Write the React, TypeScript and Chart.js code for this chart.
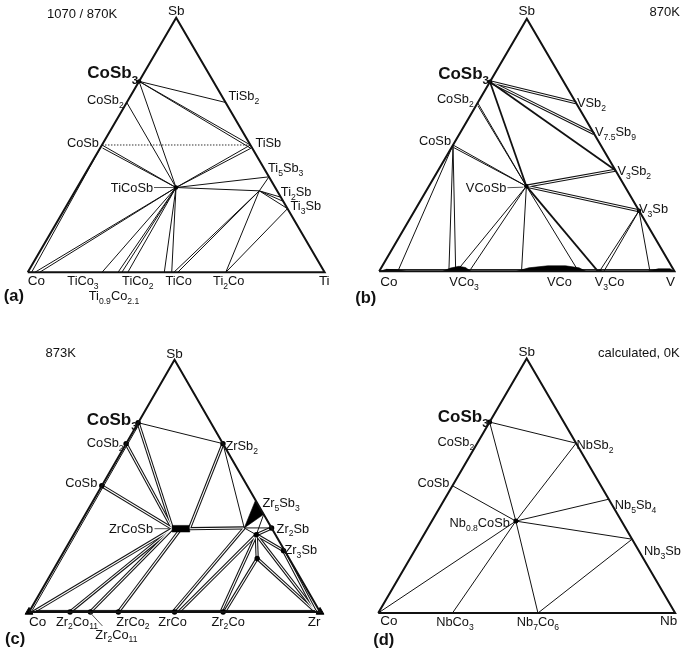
import React, { useEffect, useRef } from "react";
import { Chart, registerables } from "chart.js";
Chart.register(...registerables);

type P = [number, number]; // [fraction of metal X (right vertex), fraction of Sb]
type Seg = [string, string];
type Label = [string, string, number, number, "left" | "right" | "center", string, number[]?];

const FAMILY = '"Liberation Sans", Arial, Helvetica, sans-serif';

// ---------------- (a) Ti–Co–Sb, 1070 / 870K ----------------
const A_PTS: Record<string, P> = {
  Co: [0, 0], Ti: [1, 0], Sb: [0, 1],
  CoSb3: [0, 0.75], CoSb2: [0, 0.667], CoSb: [0, 0.5], CoSbB: [0.008, 0.488],
  TiSb2: [0.333, 0.667], TiSb: [0.5, 0.5], TiSbB: [0.508, 0.487],
  Ti5Sb3: [0.625, 0.375], Ti2Sb: [0.705, 0.295], Ti2SbB: [0.718, 0.28], Ti3Sb: [0.75, 0.25],
  TiCoSb: [0.333, 0.333], P: [0.62, 0.32],
  CoE: [0.013, 0], Co1: [0.024, 0], Co2: [0.04, 0], TiCo3: [0.25, 0], T09: [0.304, 0], T09B: [0.317, 0],
  TiCo2: [0.337, 0], TiCoA: [0.46, 0], TiCoB: [0.485, 0], TiCoC: [0.492, 0], TiCoD: [0.505, 0], Ti2Co: [0.667, 0],
};
const A_SINGLE: Seg[] = [
  ["CoSb3", "TiSb2"], ["CoSb3", "TiSb"], ["CoSb3", "TiSbB"], ["CoSb3", "TiCoSb"], ["CoSb2", "TiCoSb"],
  ["CoSb", "TiCoSb"], ["CoSbB", "TiCoSb"], ["TiSb", "TiCoSb"], ["TiSbB", "TiCoSb"],
  ["TiCoSb", "Ti5Sb3"], ["TiCoSb", "P"], ["Ti5Sb3", "P"], ["P", "Ti2Sb"], ["P", "Ti2SbB"], ["P", "Ti3Sb"],
  ["P", "TiCoC"], ["P", "TiCoD"], ["P", "Ti2Co"], ["Ti3Sb", "Ti2Co"],
  ["TiCoSb", "Co1"], ["TiCoSb", "Co2"], ["CoSb", "CoE"], ["TiCoSb", "TiCo3"], ["TiCoSb", "T09"],
  ["TiCoSb", "T09B"], ["TiCoSb", "TiCo2"], ["TiCoSb", "TiCoA"], ["TiCoSb", "TiCoB"],
];
const A_BOLD: Seg[] = [];
const A_DOUBLE: Seg[] = [];
const A_DOTTED: Seg[] = [["CoSb", "TiSb"]];
const A_DOTS: string[] = ["CoSb3", "TiCoSb"];
const A_MARKS: string[] = [];
const A_FILLS: P[][] = [];
const A_LABELS: Label[] = [
  ["Sb", "Sb", 0, -8, "center", "v"],
  ["1070 / 870K", "Sb", -59, -4, "right", "t"],
  ["CoSb_{3}", "CoSb3", -1, -9, "right", "b"],
  ["CoSb_{2}", "CoSb2", -3, -3, "right", "n"],
  ["CoSb", "CoSb", -3, -3, "right", "n"],
  ["TiSb_{2}", "TiSb2", 3, -7, "left", "n"],
  ["TiSb", "TiSb", 5, -2.5, "left", "n"],
  ["Ti_{5}Sb_{3}", "Ti5Sb3", -1, -9, "left", "n"],
  ["Ti_{2}Sb", "Ti2Sb", 0, -6, "left", "n"],
  ["Ti_{3}Sb", "Ti3Sb", 3, -3, "left", "n"],
  ["TiCoSb", "TiCoSb", -23, 0, "right", "n", [-22, 0, -2, 0]],
  ["Co", "Co", 0, 8, "left", "v"],
  ["Ti", "Ti", 5, 8, "right", "v"],
  ["TiCo_{3}", "TiCo3", -19, 8, "center", "n"],
  ["Ti_{0.9}Co_{2.1}", "T09", -4, 23, "center", "n"],
  ["TiCo_{2}", "TiCo2", 10, 8, "center", "n"],
  ["TiCo", "TiCoD", 1, 8, "center", "n"],
  ["Ti_{2}Co", "Ti2Co", 3, 8, "center", "n"],
  ["(a)", "Co", -24, 23, "left", "p"],
];

// ---------------- (b) V–Co–Sb, 870K ----------------
const B_PTS: Record<string, P> = {
  Co: [0, 0], V: [1, 0], Sb: [0, 1],
  CoSb3: [0, 0.75], CoSb3B: [0.006, 0.744], CoSb2: [0, 0.667], CoSb2B: [0.007, 0.655],
  CoSb: [0, 0.5], CoSbB: [0.007, 0.49],
  VSb2: [0.333, 0.667], V75Sb9: [0.455, 0.545], V3Sb2: [0.6, 0.4], V3Sb: [0.76, 0.24],
  VCoSb: [0.33, 0.337],
  CoE: [0.063, 0], VCo3a: [0.236, 0], VCo3: [0.25, 0], VCo3b: [0.259, 0], VCo3c: [0.262, 0], VCo3d: [0.305, 0],
  VCoA: [0.482, 0], VCo: [0.6, 0], VCoB: [0.675, 0], V3CoA: [0.741, 0], V3CoB: [0.746, 0], V3CoC: [0.761, 0],
  VE: [0.917, 0], BL: [0.02, 0.007], BR: [0.98, 0.007],
};
const B_DOUBLE: Seg[] = [["CoSb3", "VSb2"], ["CoSb3", "V75Sb9"], ["VCoSb", "V3Sb2"], ["VCoSb", "V3Sb"]];
const B_BOLD: Seg[] = [["CoSb3", "VCoSb"], ["CoSb3", "V3Sb2"], ["VCoSb", "V3CoA"]];
const B_SINGLE: Seg[] = [
  ["CoSb2", "VCoSb"], ["CoSb2B", "VCoSb"], ["CoSb", "VCoSb"], ["CoSbB", "VCoSb"],
  ["VCoSb", "VCoA"], ["VCoSb", "VCoB"], ["VCoSb", "VCo3c"], ["VCoSb", "VCo3d"],
  ["CoSb", "CoE"], ["CoSb", "VCo3a"], ["CoSb", "VCo3b"],
  ["V3Sb", "V3CoB"], ["V3Sb", "V3CoC"], ["V3Sb", "VE"], ["BL", "BR"],
];
const B_DOTTED: Seg[] = [];
const B_DOTS: string[] = ["CoSb3", "VCoSb", "V3Sb"];
const B_MARKS: string[] = [];
const B_FILLS: P[][] = [
  [[0, 0], [0.02, 0.008], [0.06, 0.006], [0.09, 0]],
  [[0.215, 0], [0.235, 0.013], [0.26, 0.02], [0.285, 0.015], [0.31, 0]],
  [[0.465, 0], [0.5, 0.014], [0.56, 0.022], [0.62, 0.022], [0.67, 0.014], [0.7, 0]],
  [[0.735, 0], [0.745, 0.007], [0.755, 0]],
  [[0.91, 0], [0.94, 0.01], [0.98, 0.01], [1, 0]],
];
const B_LABELS: Label[] = [
  ["Sb", "Sb", 0, -8, "center", "v"],
  ["870K", "Sb", 153, -7.5, "right", "t"],
  ["CoSb_{3}", "CoSb3", -1, -9, "right", "b"],
  ["CoSb_{2}", "CoSb2", -4, -4, "right", "n"],
  ["CoSb", "CoSb", -2, -4.5, "right", "n"],
  ["VSb_{2}", "VSb2", 1, 0, "left", "n"],
  ["V_{7.5}Sb_{9}", "V75Sb9", 1, -2, "left", "n"],
  ["V_{3}Sb_{2}", "V3Sb2", 2, 0.5, "left", "n"],
  ["V_{3}Sb", "V3Sb", 0, -2, "left", "n"],
  ["VCoSb", "VCoSb", -20, 1, "right", "n", [-19, 1.5, -3, 1]],
  ["Co", "Co", 1, 10, "left", "v"],
  ["VCo_{3}", "VCo3", 11, 10, "center", "n"],
  ["VCo", "VCo", 3, 10, "center", "n"],
  ["V_{3}Co", "V3CoB", 10, 10, "center", "n"],
  ["V", "V", -4, 10, "center", "v"],
  ["(b)", "Co", -24, 26, "left", "p"],
];

// ---------------- (c) Zr–Co–Sb, 873K ----------------
const C_PTS: Record<string, P> = {
  Co: [0, 0], Zr: [1, 0], Sb: [0, 1],
  CoSb3: [0, 0.75], CoSb2: [0, 0.667], CoSb: [0, 0.5], ZrSb2: [0.333, 0.667],
  Z1: [0.557, 0.442], Z2: [0.613, 0.387], Z3: [0.573, 0.333],
  Zr2Sb: [0.667, 0.333], Zr3Sb: [0.753, 0.243], Q1: [0.628, 0.306], Q2: [0.678, 0.212],
  ZL: [0.328, 0.33], ZM: [0.357, 0.33], ZR: [0.386, 0.33],
  CoB: [0.015, 0], Zr2Co11a: [0.141, 0], Zr2Co11b: [0.211, 0], ZrCo2: [0.333, 0], ZrCo2a: [0.307, 0],
  ZrCo: [0.5, 0], ZrCoA: [0.495, 0], ZrCoB: [0.515, 0],
  Zr2Co: [0.667, 0], Zr2CoA: [0.66, 0], Zr2CoB: [0.672, 0], ZrB: [0.985, 0],
  CoI: [0.008, 0], CoSb3I: [0.006, 0.744], BL: [0.02, 0.006], BR: [0.98, 0.006],
};
const C_DOUBLE: Seg[] = [
  ["CoSb3", "ZL"], ["CoSb2", "ZL"], ["CoSb", "ZL"], ["ZrSb2", "ZR"], ["ZR", "Z3"],
  ["ZL", "CoB"], ["ZL", "Zr2Co11a"], ["ZL", "Zr2Co11b"], ["ZM", "ZrCo2a"],
  ["Z3", "ZrCoA"], ["Q1", "ZrCoB"], ["Q1", "Zr2CoA"], ["Q2", "Zr2CoB"],
  ["Q1", "Zr2Sb"], ["Q1", "Zr3Sb"], ["Q1", "Q2"], ["Q1", "ZrB"], ["Q2", "ZrB"], ["Zr3Sb", "ZrB"],
];
const C_BOLD: Seg[] = [];
const C_SINGLE: Seg[] = [
  ["CoSb3", "ZrSb2"], ["ZrSb2", "Z3"], ["Z3", "Q1"], ["Z2", "Q1"], ["Z3", "Zr2Sb"], ["Z2", "Zr2Sb"],
  ["CoI", "CoSb3I"], ["BL", "BR"],
];
const C_DOTTED: Seg[] = [];
const C_DOTS: string[] = [
  "CoSb3", "CoSb2", "CoSb", "ZrSb2", "Zr2Sb", "Zr3Sb", "Q1", "Q2",
  "Zr2Co11a", "Zr2Co11b", "ZrCo2a", "ZrCo", "Zr2Co",
];
const C_MARKS: string[] = ["Co", "Zr"];
const C_FILLS: P[][] = [
  [[0.557, 0.442], [0.613, 0.387], [0.573, 0.333]],
  [[0.32, 0.343], [0.378, 0.343], [0.394, 0.317], [0.336, 0.317]],
];
const C_LABELS: Label[] = [
  ["Sb", "Sb", 0, -7, "center", "v"],
  ["873K", "Sb", -129, -7, "left", "t"],
  ["CoSb_{3}", "CoSb3", -0.5, -4, "right", "b"],
  ["CoSb_{2}", "CoSb2", -2.5, -1.5, "right", "n"],
  ["CoSb", "CoSb", -4.5, -3.5, "right", "n"],
  ["ZrSb_{2}", "ZrSb2", 2.5, 1.5, "left", "n"],
  ["Zr_{5}Sb_{3}", "Z1", 7, 2, "left", "n"],
  ["Zr_{2}Sb", "Zr2Sb", 5, 0, "left", "n"],
  ["Zr_{3}Sb", "Zr3Sb", 1, -1, "left", "n"],
  ["ZrCoSb", "ZL", -19.5, 0, "right", "n", [-18, 0, -3, 0]],
  ["Co", "Co", 0, 9, "left", "v"],
  ["Zr_{2}Co_{11}", "Zr2Co11a", 7, 9, "center", "n"],
  ["Zr_{2}Co_{11}", "Zr2Co11b", 26, 22, "center", "n", [0, 1, 12, 14]],
  ["ZrCo_{2}", "ZrCo2", 7, 9, "center", "n"],
  ["ZrCo", "ZrCo", -2, 9, "center", "n"],
  ["Zr_{2}Co", "Zr2Co", 5, 9, "center", "n"],
  ["Zr", "Zr", -6, 9, "center", "v"],
  ["(c)", "Co", -24, 26, "left", "p"],
];

// ---------------- (d) Nb–Co–Sb, calculated 0K ----------------
const D_PTS: Record<string, P> = {
  Co: [0, 0], Nb: [1, 0], Sb: [0, 1],
  CoSb3: [0, 0.75], CoSb2: [0, 0.667], CoSb: [0, 0.5],
  NbSb2: [0.333, 0.667], Nb5Sb4: [0.553, 0.447], Nb3Sb: [0.71, 0.29], NbCoSb: [0.283, 0.361],
  NbCo3: [0.25, 0], Nb7Co6: [0.538, 0],
};
const D_SINGLE: Seg[] = [
  ["CoSb3", "NbSb2"], ["CoSb3", "NbCoSb"], ["NbCoSb", "Nb7Co6"], ["CoSb", "NbCoSb"], ["NbSb2", "NbCoSb"],
  ["Nb5Sb4", "NbCoSb"], ["Nb3Sb", "NbCoSb"], ["Co", "NbCoSb"], ["NbCo3", "NbCoSb"], ["Nb3Sb", "Nb7Co6"],
];
const D_BOLD: Seg[] = [];
const D_DOUBLE: Seg[] = [];
const D_DOTTED: Seg[] = [];
const D_DOTS: string[] = ["CoSb3", "NbCoSb"];
const D_MARKS: string[] = [];
const D_FILLS: P[][] = [];
const D_LABELS: Label[] = [
  ["Sb", "Sb", 0, -7, "center", "v"],
  ["calculated, 0K", "Sb", 153, -6, "right", "t"],
  ["CoSb_{3}", "CoSb3", -1, -6, "right", "b"],
  ["CoSb_{2}", "CoSb2", -3, -1.5, "right", "n"],
  ["CoSb", "CoSb", -3, -3.5, "right", "n"],
  ["NbSb_{2}", "NbSb2", 0.5, 1.5, "left", "n"],
  ["Nb_{5}Sb_{4}", "Nb5Sb4", 6, 5, "left", "n"],
  ["Nb_{3}Sb", "Nb3Sb", 12, 11, "left", "n"],
  ["Nb_{0.8}CoSb", "NbCoSb", -6, 1, "right", "n"],
  ["Co", "Co", 2, 7.5, "left", "v"],
  ["NbCo_{3}", "NbCo3", 2.5, 8.5, "center", "n"],
  ["Nb_{7}Co_{6}", "Nb7Co6", 0, 8.5, "center", "n"],
  ["Nb", "Nb", -6.5, 7.5, "center", "v"],
  ["(d)", "Co", -5, 26, "left", "p"],
];

// layout: canvas box [left, top, w, h]; triangle pixels [leftVertexX, rightVertexX, baseY, apexY]; dot radius
const PANELS = [
  { box: [0, 0, 342, 330], tri: [24.3, 328.3, 275, 14], dotR: 2.2, right: "Ti", pts: A_PTS, single: A_SINGLE, bold: A_BOLD, dbl: A_DOUBLE, dotted: A_DOTTED, dots: A_DOTS, marks: A_MARKS, fills: A_FILLS, labels: A_LABELS },
  { box: [342, 0, 343, 330], tri: [376, 678.3, 274, 15], dotR: 2.2, right: "V", pts: B_PTS, single: B_SINGLE, bold: B_BOLD, dbl: B_DOUBLE, dotted: B_DOTTED, dots: B_DOTS, marks: B_MARKS, fills: B_FILLS, labels: B_LABELS },
  { box: [0, 330, 342, 329], tri: [24.3, 325, 616, 355], dotR: 2.7, right: "Zr", pts: C_PTS, single: C_SINGLE, bold: C_BOLD, dbl: C_DOUBLE, dotted: C_DOTTED, dots: C_DOTS, marks: C_MARKS, fills: C_FILLS, labels: C_LABELS },
  { box: [342, 330, 343, 329], tri: [375, 679, 616, 355], dotR: 2.5, right: "Nb", pts: D_PTS, single: D_SINGLE, bold: D_BOLD, dbl: D_DOUBLE, dotted: D_DOTTED, dots: D_DOTS, marks: D_MARKS, fills: D_FILLS, labels: D_LABELS },
];

const FONTS: Record<string, [number, number, string]> = {
  n: [12.8, 8.6, ""],
  b: [17, 11.5, "bold "],
  v: [13.5, 9, ""],
  t: [13, 9, ""],
  p: [16.5, 11, "bold "],
};

const toXY = (p: P) => ({ x: p[0] + p[1] / 2, y: p[1] });

function drawRich(ctx: CanvasRenderingContext2D, text: string, x: number, y: number, align: string, kind: string) {
  const [size, sub, weight] = FONTS[kind];
  const parts: { s: string; sub: boolean; w?: number }[] = [];
  const re = /_\{([^}]*)\}/g;
  let last = 0;
  let m: RegExpExecArray | null;
  while ((m = re.exec(text))) {
    if (m.index > last) parts.push({ s: text.slice(last, m.index), sub: false });
    parts.push({ s: m[1], sub: true });
    last = re.lastIndex;
  }
  if (last < text.length) parts.push({ s: text.slice(last), sub: false });
  const fMain = `${weight}${size}px ${FAMILY}`;
  const fSub = `${weight}${sub}px ${FAMILY}`;
  let w = 0;
  for (const p of parts) {
    ctx.font = p.sub ? fSub : fMain;
    p.w = ctx.measureText(p.s).width;
    w += p.w;
  }
  let cx = align === "left" ? x : align === "right" ? x - w : x - w / 2;
  const base = y + size * 0.36;
  ctx.textAlign = "left";
  ctx.textBaseline = "alphabetic";
  for (const p of parts) {
    ctx.font = p.sub ? fSub : fMain;
    ctx.fillText(p.s, cx, p.sub ? base + size * 0.3 : base);
    cx += p.w as number;
  }
}

function makeChart(canvas: HTMLCanvasElement, cfg: any) {
  const [bl, bt, bw, bh] = cfg.box;
  const [lx, rx, by, ay] = cfg.tri;
  const kx = rx - lx;
  const ky = by - ay;
  const x0 = lx - bl;
  const y0 = by - bt;
  const pts = cfg.pts as Record<string, P>;
  const seg = (s: Seg) => [toXY(pts[s[0]]), toXY(pts[s[1]])];
  const base = { showLine: true, pointRadius: 0, fill: false, tension: 0 };
  const ds: any[] = [];
  ds.push({ ...base, data: ["Co", cfg.right, "Sb", "Co"].map((n) => toXY(pts[n])), borderColor: "#111", borderWidth: 2, order: 0, borderJoinStyle: "miter" });
  for (const f of cfg.fills as P[][]) {
    ds.push({ ...base, data: [...f, f[0]].map(toXY), fill: "shape", backgroundColor: "#000", borderColor: "#000", borderWidth: 0.6, order: 1 });
  }
  if (cfg.marks.length) ds.push({ data: cfg.marks.map((n: string) => toXY(pts[n])), showLine: false, pointStyle: "triangle", pointRadius: 4.5, backgroundColor: "#000", borderColor: "#000", order: 2 });
  if (cfg.dots.length) ds.push({ data: cfg.dots.map((n: string) => toXY(pts[n])), showLine: false, pointRadius: cfg.dotR, backgroundColor: "#000", borderColor: "#000", borderWidth: 0, order: 2 });
  for (const s of cfg.single) ds.push({ ...base, data: seg(s), borderColor: "#111", borderWidth: 1, order: 3 });
  for (const s of cfg.bold) ds.push({ ...base, data: seg(s), borderColor: "#111", borderWidth: 1.8, order: 3 });
  for (const s of cfg.dotted) ds.push({ ...base, data: seg(s), borderColor: "#333", borderWidth: 1, borderDash: [1.5, 1.5], order: 3 });
  for (const s of cfg.dbl) ds.push({ ...base, data: seg(s), borderColor: "#fff", borderWidth: 1.1, order: 4 });
  for (const s of cfg.dbl) ds.push({ ...base, data: seg(s), borderColor: "#111", borderWidth: 3.2, order: 5 });

  const labelPlugin = {
    id: "ternLabels",
    afterDraw(chart: any) {
      const ctx = chart.ctx as CanvasRenderingContext2D;
      const xs = chart.scales.x;
      const ys = chart.scales.y;
      ctx.save();
      ctx.fillStyle = "#111";
      ctx.strokeStyle = "#555";
      ctx.lineWidth = 1;
      for (const lb of cfg.labels as Label[]) {
        const q = toXY(pts[lb[1]]);
        const ax = xs.getPixelForValue(q.x);
        const ay2 = ys.getPixelForValue(q.y);
        drawRich(ctx, lb[0], ax + lb[2], ay2 + lb[3], lb[4], lb[5]);
        const ld = lb[6];
        if (ld) {
          ctx.beginPath();
          ctx.moveTo(ax + ld[0], ay2 + ld[1]);
          ctx.lineTo(ax + ld[2], ay2 + ld[3]);
          ctx.stroke();
        }
      }
      ctx.restore();
    },
  };

  return new Chart(canvas, {
    type: "scatter",
    data: { datasets: ds },
    options: {
      animation: false,
      responsive: false,
      maintainAspectRatio: false,
      devicePixelRatio: 1,
      events: [],
      layout: { padding: 0 },
      plugins: { legend: { display: false }, tooltip: { enabled: false }, title: { display: false } },
      scales: {
        x: { type: "linear", display: false, min: -x0 / kx, max: (bw - x0) / kx },
        y: { type: "linear", display: false, min: -(bh - y0) / ky, max: y0 / ky },
      },
    },
    plugins: [labelPlugin],
  } as any);
}

export default function App() {
  const refs = [useRef<HTMLCanvasElement>(null), useRef<HTMLCanvasElement>(null), useRef<HTMLCanvasElement>(null), useRef<HTMLCanvasElement>(null)];
  useEffect(() => {
    const charts = PANELS.map((p, i) => makeChart(refs[i].current as HTMLCanvasElement, p));
    return () => charts.forEach((c) => c.destroy());
  }, []);
  return (
    <div style={{ position: "absolute", left: 0, top: 0, width: 685, height: 659, background: "#fff", overflow: "hidden" }}>
      {PANELS.map((p, i) => (
        <canvas
          key={i}
          ref={refs[i]}
          width={p.box[2]}
          height={p.box[3]}
          style={{ position: "absolute", left: p.box[0], top: p.box[1], width: p.box[2], height: p.box[3] }}
        />
      ))}
    </div>
  );
}
